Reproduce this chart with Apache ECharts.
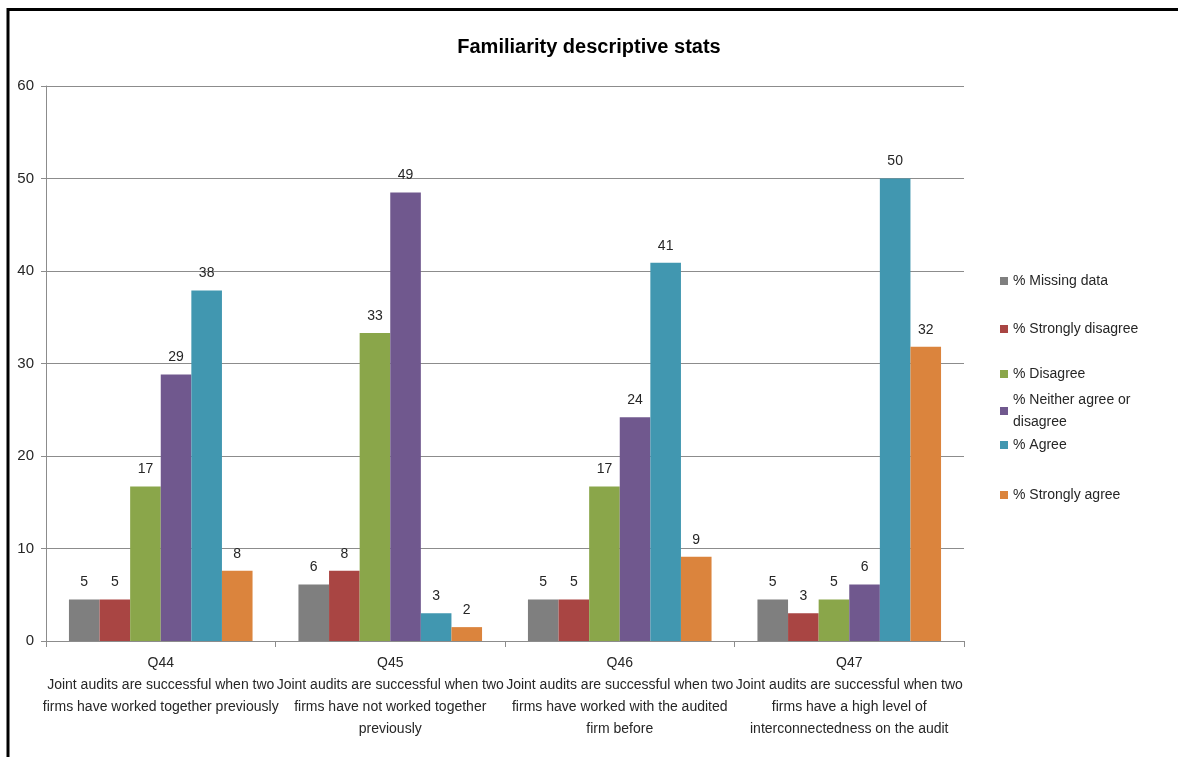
<!DOCTYPE html>
<html>
<head>
<meta charset="utf-8">
<script src="https://cdn.jsdelivr.net/npm/echarts@6/dist/echarts.min.js"></script>
<style>
  html, body { margin: 0; padding: 0; background: #ffffff; }
  #chart { width: 1178px; height: 757px; }
</style>
</head>
<body>
<div id="chart"></div>
<script>
// Survey questions (category axis)
const questions = ['Q44', 'Q45', 'Q46', 'Q47'];
const questionText = [
  'Joint audits are successful when two\nfirms have worked together previously',
  'Joint audits are successful when two\nfirms have not worked together\npreviously',
  'Joint audits are successful when two\nfirms have worked with the audited\nfirm before',
  'Joint audits are successful when two\nfirms have a high level of\ninterconnectedness on the audit'
];

// Response shares (%), one array per answer option
const missingData      = [4.5, 6.1, 4.5, 4.5];
const stronglyDisagree = [4.5, 7.6, 4.5, 3.0];
const disagree         = [16.7, 33.3, 16.7, 4.5];
const neither          = [28.8, 48.5, 24.2, 6.1];
const agree            = [37.9, 3.0, 40.9, 50.0];
const stronglyAgree    = [7.6, 1.5, 9.1, 31.8];

const seriesNames = [
  '% Missing data',
  '% Strongly disagree',
  '% Disagree',
  '% Neither agree or disagree',
  '% Agree',
  '% Strongly agree'
];
const seriesData = [missingData, stronglyDisagree, disagree, neither, agree, stronglyAgree];
const colors = ['#7f7f7f', '#a94543', '#8aa64a', '#70588e', '#4197b0', '#db843d'];

// Y axis ticks
const yTicks = [0, 10, 20, 30, 40, 50, 60];

const FONT = '"Liberation Sans", Arial, sans-serif';
const TEXT = '#262626';

// Legend entries placed down the right-hand side (vertical centre of each entry)
const legendCenters = [279, 327, 372, 409, 443, 493];
const legendLabels = {
  '% Neither agree or disagree': '% Neither agree or\ndisagree'
};

const legends = seriesNames.map((name, i) => {
  const twoLine = !!legendLabels[name];
  return {
    data: [name],
    left: 995,
    top: legendCenters[i] - (twoLine ? 25 : 14),
    orient: 'vertical',
    itemWidth: 8,
    itemHeight: 8,
    icon: 'rect',
    selectedMode: false,
    formatter: n => legendLabels[n] || n,
    textStyle: {
      fontFamily: FONT,
      fontSize: 14,
      color: TEXT,
      lineHeight: 22
    }
  };
});

const chart = echarts.init(document.getElementById('chart'), null, { renderer: 'canvas' });

chart.setOption({
  animation: false,
  backgroundColor: '#ffffff',
  color: colors,
  title: {
    text: 'Familiarity descriptive stats',
    left: 'center',
    top: 32,
    textStyle: {
      fontFamily: FONT,
      fontWeight: 'bold',
      fontSize: 20,
      color: '#000000'
    }
  },
  legend: legends,
  grid: {
    left: 46,
    right: 214,
    top: 86,
    bottom: 116,
    containLabel: false
  },
  xAxis: {
    type: 'category',
    data: questions,
    axisLine: { show: true, lineStyle: { color: '#8c8c8c', width: 1 } },
    axisTick: { show: true, alignWithLabel: false, length: 6, lineStyle: { color: '#8c8c8c' } },
    axisLabel: {
      interval: 0,
      margin: 11,
      fontFamily: FONT,
      fontSize: 14,
      lineHeight: 22,
      color: TEXT,
      align: 'center',
      formatter: (value, idx) => value + '\n' + questionText[idx]
    },
    splitLine: { show: false }
  },
  yAxis: {
    type: 'value',
    min: yTicks[0],
    max: yTicks[yTicks.length - 1],
    interval: 10,
    axisLine: { show: true, lineStyle: { color: '#8c8c8c', width: 1 } },
    axisTick: { show: true, length: 5, lineStyle: { color: '#8c8c8c' } },
    axisLabel: {
      margin: 12,
      fontFamily: FONT,
      fontSize: 15,
      color: TEXT
    },
    splitLine: { show: true, lineStyle: { color: '#8c8c8c', width: 1 } }
  },
  graphic: [
    {
      type: 'polyline',
      shape: { points: [[8, 757], [8, 9.5], [1178, 9.5]] },
      style: { stroke: '#000000', lineWidth: 3, fill: null },
      silent: true
    }
  ],
  series: seriesNames.map((name, i) => ({
    name: name,
    type: 'bar',
    data: seriesData[i],
    barGap: '0%',
    barCategoryGap: '20%',
    itemStyle: { color: colors[i] },
    label: {
      show: true,
      position: 'top',
      distance: 10,
      fontFamily: FONT,
      fontSize: 14,
      color: TEXT,
      formatter: p => Math.round(p.value)
    }
  }))
});
</script>
</body>
</html>
